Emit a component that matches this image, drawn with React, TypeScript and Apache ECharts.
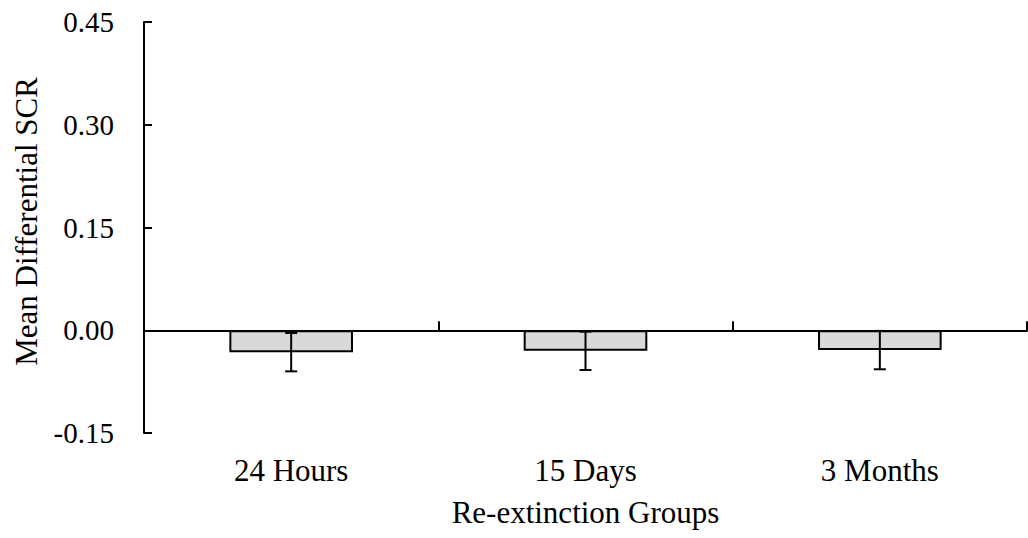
import React, { useEffect, useRef } from "react";
import * as echarts from "echarts";

// Re-extinction groups and their mean differential SCR with standard errors
const categories: string[] = ["24 Hours", "15 Days", "3 Months"];
const means: number[] = [-0.032, -0.03, -0.029];
const errors: number[] = [0.028, 0.028, 0.028];
const yTicks = { min: -0.15, max: 0.45, interval: 0.15 };

const FONT = "Times New Roman, Liberation Serif, DejaVu Serif, serif";

export default function App() {
  const ref = useRef<HTMLDivElement>(null);

  useEffect(() => {
    if (!ref.current) return;
    const chart = echarts.init(ref.current, undefined, { renderer: "svg" });

    const errData = means.map((m, i) => [i, m - errors[i], m + errors[i]]);

    chart.setOption({
      animation: false,
      backgroundColor: "#ffffff",
      textStyle: { fontFamily: FONT },
      grid: { left: 144, right: 1, top: 22, bottom: 105, outerBoundsMode: "none", containLabel: false },
      xAxis: [
        {
          type: "category",
          data: categories,
          position: "bottom",
          axisLine: { show: false, onZero: false },
          axisTick: { show: false },
          axisLabel: {
            color: "#000",
            fontFamily: FONT,
            fontSize: 31,
            margin: 22,
          },
          name: "Re-extinction Groups",
          nameLocation: "middle",
          nameGap: 64,
          nameTextStyle: { color: "#000", fontFamily: FONT, fontSize: 31 },
          splitLine: { show: false },
        },
        {
          type: "category",
          data: categories,
          position: "bottom",
          axisLine: { show: true, onZero: true, lineStyle: { color: "#000", width: 2 } },
          axisTick: {
            show: true,
            inside: true,
            length: 9,
            lineStyle: { color: "#000", width: 2 },
          },
          axisLabel: { show: false },
          splitLine: { show: false },
        },
      ],
      yAxis: {
        type: "value",
        min: yTicks.min,
        max: yTicks.max,
        interval: yTicks.interval,
        axisLine: { show: true, onZero: false, lineStyle: { color: "#000", width: 2 } },
        axisTick: { show: true, inside: true, length: 8, lineStyle: { color: "#000", width: 2 } },
        splitLine: { show: false },
        axisLabel: {
          color: "#000",
          fontFamily: FONT,
          fontSize: 29,
          margin: 30,
          formatter: (v: number) => v.toFixed(2),
        },
        name: "Mean Differential SCR",
        nameLocation: "middle",
        nameGap: 102,
        nameTextStyle: { color: "#000", fontFamily: FONT, fontSize: 31, padding: [0, 0, 0, 12] },
      },
      series: [
        {
          type: "bar",
          data: means,
          barWidth: "42%",
          itemStyle: { color: "#d9d9d9", borderColor: "#000", borderWidth: 2 },
          z: 2,
        },
        {
          type: "custom",
          data: errData,
          z: 10,
          renderItem: (params: any, api: any) => {
            const x = api.value(0);
            const lo = api.coord([x, api.value(1)]);
            const hi = api.coord([x, api.value(2)]);
            const cap = 6;
            const style = { stroke: "#000", lineWidth: 2 };
            return {
              type: "group",
              children: [
                { type: "line", shape: { x1: lo[0], y1: lo[1], x2: hi[0], y2: hi[1] }, style },
                { type: "line", shape: { x1: lo[0] - cap, y1: lo[1], x2: lo[0] + cap, y2: lo[1] }, style },
                { type: "line", shape: { x1: hi[0] - cap, y1: hi[1], x2: hi[0] + cap, y2: hi[1] }, style },
              ],
            };
          },
        },
      ],
    });

    return () => chart.dispose();
  }, []);

  return (
    <div
      ref={ref}
      style={{ position: "fixed", left: 0, top: 0, width: 1028, height: 538, background: "#fff" }}
    />
  );
}
